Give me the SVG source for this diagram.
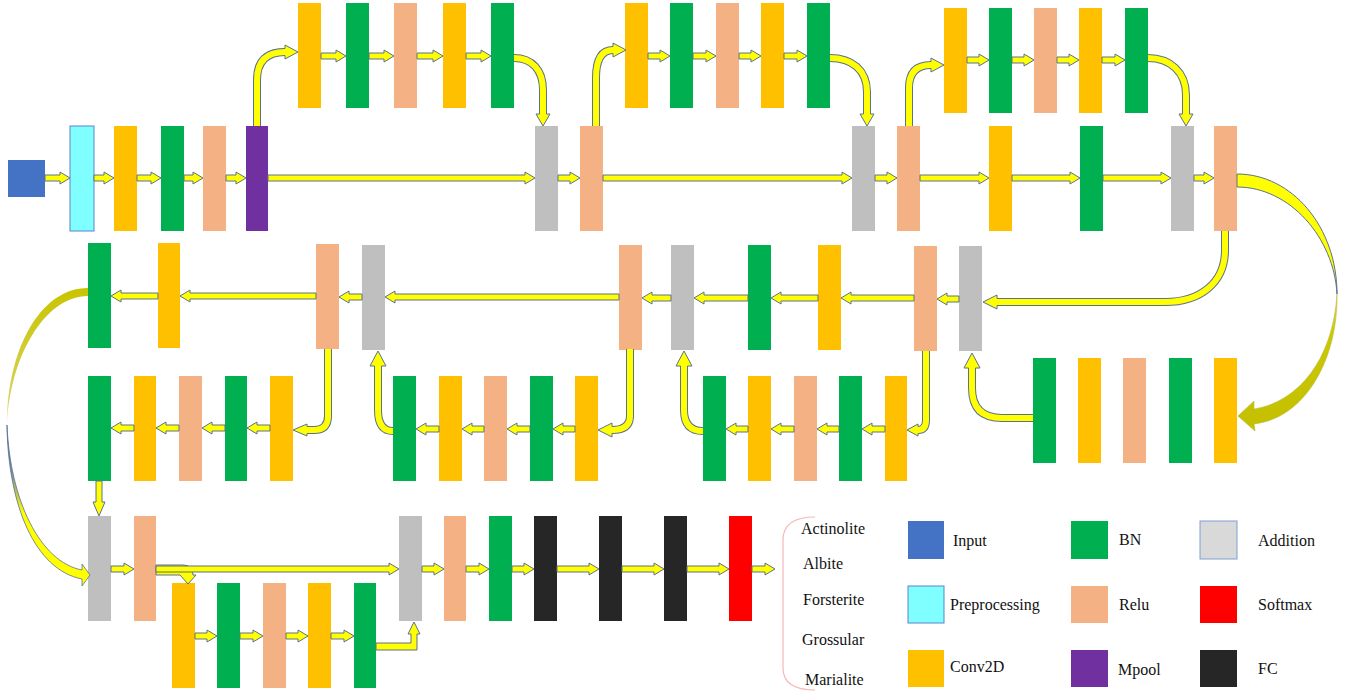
<svg xmlns="http://www.w3.org/2000/svg" width="1355" height="692" viewBox="0 0 1355 692">
<style>
.cv{fill:#ffc000}.bn{fill:#00b050}.rl{fill:#f4b183}.ad{fill:#bfbfbf}.fc{fill:#262626}.sm{fill:#ff0000}.mp{fill:#7030a0}.in{fill:#4472c4}
.pp{fill:#7fffff;stroke:#5b84cc;stroke-width:1}
.lad{fill:#d9d9d9;stroke:#7f9fd6;stroke-width:1}
.ar,.ah{fill:#ffff00;stroke:#5b7190;stroke-width:1}
.so{fill:none;stroke:#5b7190;stroke-width:8}
.si{fill:none;stroke:#ffff00;stroke-width:6}
.t{font-family:"Liberation Serif","Times New Roman",serif;font-size:16px;fill:#111}
</style>
<defs>
<linearGradient id="gLU" gradientUnits="userSpaceOnUse" x1="0" y1="288" x2="0" y2="428">
<stop offset="0" stop-color="#c8c400"/><stop offset="0.8" stop-color="#d6d35a"/><stop offset="1" stop-color="#eeeed8"/>
</linearGradient>
<linearGradient id="gLL" gradientUnits="userSpaceOnUse" x1="0" y1="425" x2="0" y2="585">
<stop offset="0" stop-color="#3f5f9f"/><stop offset="0.3" stop-color="#7f8fa0"/><stop offset="0.55" stop-color="#ffff00"/><stop offset="1" stop-color="#ffff00"/>
</linearGradient>
<linearGradient id="gRL" gradientUnits="userSpaceOnUse" x1="0" y1="294" x2="0" y2="430">
<stop offset="0" stop-color="#e0e040"/><stop offset="0.3" stop-color="#cbc700"/><stop offset="1" stop-color="#c4c000"/>
</linearGradient>
</defs>

<!-- Row 1 -->
<g id="input"><rect class="in" x="8" y="160" width="37" height="37"/></g>
<g id="preprocessing"><rect class="pp" x="70" y="126" width="24" height="105"/></g>
<g id="r1_conv"><rect class="cv" x="114" y="126" width="23" height="105"/></g>
<g id="r1_bn"><rect class="bn" x="161" y="126" width="23" height="105"/></g>
<g id="r1_relu"><rect class="rl" x="203" y="126" width="23" height="105"/></g>
<g id="r1_mpool"><rect class="mp" x="246" y="126" width="22" height="105"/></g>
<g id="r1_add1"><rect class="ad" x="535" y="126" width="23" height="105"/></g>
<g id="r1_relu2"><rect class="rl" x="580" y="126" width="23" height="105"/></g>
<g id="r1_add2"><rect class="ad" x="852" y="126" width="23" height="105"/></g>
<g id="r1_relu3"><rect class="rl" x="897" y="126" width="23" height="105"/></g>
<g id="r1_conv2"><rect class="cv" x="989" y="126" width="23" height="105"/></g>
<g id="r1_bn2"><rect class="bn" x="1080" y="126" width="23" height="105"/></g>
<g id="r1_add3"><rect class="ad" x="1171" y="126" width="23" height="105"/></g>
<g id="r1_relu4"><rect class="rl" x="1214" y="126" width="23" height="105"/></g>

<!-- Top branches -->
<g id="b1_conv1"><rect class="cv" x="298" y="3" width="23" height="105"/></g>
<g id="b1_bn1"><rect class="bn" x="346" y="3" width="23" height="105"/></g>
<g id="b1_relu"><rect class="rl" x="394" y="3" width="23" height="105"/></g>
<g id="b1_conv2"><rect class="cv" x="443" y="3" width="23" height="105"/></g>
<g id="b1_bn2"><rect class="bn" x="491" y="3" width="23" height="105"/></g>

<g id="b2_conv1"><rect class="cv" x="625" y="3" width="23" height="105"/></g>
<g id="b2_bn1"><rect class="bn" x="670" y="3" width="23" height="105"/></g>
<g id="b2_relu"><rect class="rl" x="716" y="3" width="23" height="105"/></g>
<g id="b2_conv2"><rect class="cv" x="761" y="3" width="23" height="105"/></g>
<g id="b2_bn2"><rect class="bn" x="807" y="3" width="23" height="105"/></g>

<g id="b3_conv1"><rect class="cv" x="944" y="8" width="23" height="105"/></g>
<g id="b3_bn1"><rect class="bn" x="989" y="8" width="23" height="105"/></g>
<g id="b3_relu"><rect class="rl" x="1034" y="8" width="23" height="105"/></g>
<g id="b3_conv2"><rect class="cv" x="1079" y="8" width="23" height="105"/></g>
<g id="b3_bn2"><rect class="bn" x="1125" y="8" width="23" height="105"/></g>

<!-- Row 2 -->
<g id="r2_bn"><rect class="bn" x="88" y="243" width="23" height="105"/></g>
<g id="r2_conv"><rect class="cv" x="158" y="243" width="22" height="105"/></g>
<g id="r2_relu1"><rect class="rl" x="316" y="244" width="23" height="105"/></g>
<g id="r2_add1"><rect class="ad" x="362" y="245" width="23" height="105"/></g>
<g id="r2_relu2"><rect class="rl" x="619" y="245" width="23" height="105"/></g>
<g id="r2_add2"><rect class="ad" x="671" y="245" width="23" height="105"/></g>
<g id="r2_bn2"><rect class="bn" x="748" y="245" width="23" height="105"/></g>
<g id="r2_conv2"><rect class="cv" x="818" y="245" width="23" height="105"/></g>
<g id="r2_relu3"><rect class="rl" x="914" y="246" width="23" height="105"/></g>
<g id="r2_add3"><rect class="ad" x="959" y="246" width="23" height="105"/></g>

<!-- Row 3 -->
<g id="r3a_bn1"><rect class="bn" x="88" y="376" width="23" height="105"/></g>
<g id="r3a_conv1"><rect class="cv" x="134" y="376" width="22" height="105"/></g>
<g id="r3a_relu"><rect class="rl" x="179" y="376" width="23" height="105"/></g>
<g id="r3a_bn2"><rect class="bn" x="225" y="376" width="22" height="105"/></g>
<g id="r3a_conv2"><rect class="cv" x="270" y="376" width="23" height="105"/></g>

<g id="r3b_bn1"><rect class="bn" x="393" y="376" width="23" height="105"/></g>
<g id="r3b_conv1"><rect class="cv" x="439" y="376" width="23" height="105"/></g>
<g id="r3b_relu"><rect class="rl" x="484" y="376" width="23" height="105"/></g>
<g id="r3b_bn2"><rect class="bn" x="530" y="376" width="23" height="105"/></g>
<g id="r3b_conv2"><rect class="cv" x="575" y="376" width="23" height="105"/></g>

<g id="r3c_bn1"><rect class="bn" x="703" y="376" width="23" height="105"/></g>
<g id="r3c_conv1"><rect class="cv" x="748" y="376" width="23" height="105"/></g>
<g id="r3c_relu"><rect class="rl" x="794" y="376" width="23" height="105"/></g>
<g id="r3c_bn2"><rect class="bn" x="839" y="376" width="23" height="105"/></g>
<g id="r3c_conv2"><rect class="cv" x="885" y="376" width="22" height="105"/></g>

<g id="r3d_bn1"><rect class="bn" x="1033" y="358" width="23" height="105"/></g>
<g id="r3d_conv1"><rect class="cv" x="1078" y="358" width="23" height="105"/></g>
<g id="r3d_relu"><rect class="rl" x="1123" y="358" width="23" height="105"/></g>
<g id="r3d_bn2"><rect class="bn" x="1169" y="358" width="23" height="105"/></g>
<g id="r3d_conv2"><rect class="cv" x="1214" y="358" width="23" height="105"/></g>

<!-- Row 4 -->
<g id="r4_add1"><rect class="ad" x="88" y="516" width="23" height="105"/></g>
<g id="r4_relu1"><rect class="rl" x="134" y="516" width="22" height="105"/></g>
<g id="r4_add2"><rect class="ad" x="399" y="516" width="23" height="105"/></g>
<g id="r4_relu2"><rect class="rl" x="444" y="516" width="22" height="105"/></g>
<g id="r4_bn"><rect class="bn" x="489" y="516" width="23" height="105"/></g>
<g id="r4_fc1"><rect class="fc" x="534" y="516" width="23" height="105"/></g>
<g id="r4_fc2"><rect class="fc" x="599" y="516" width="23" height="105"/></g>
<g id="r4_fc3"><rect class="fc" x="664" y="516" width="23" height="105"/></g>
<g id="r4_softmax"><rect class="sm" x="729" y="516" width="23" height="105"/></g>

<g id="r5_conv1"><rect class="cv" x="172" y="583" width="23" height="105"/></g>
<g id="r5_bn1"><rect class="bn" x="217" y="583" width="23" height="105"/></g>
<g id="r5_relu"><rect class="rl" x="263" y="583" width="23" height="105"/></g>
<g id="r5_conv2"><rect class="cv" x="308" y="583" width="23" height="105"/></g>
<g id="r5_bn2"><rect class="bn" x="354" y="583" width="22" height="105"/></g>

<!-- Connectors -->
<g id="connectors">
<!-- row 1 -->
<path class="ar" d="M45 175H60V172L70 178L60 184V181H45Z"/>
<path class="ar" d="M94 175H104V172L114 178L104 184V181H94Z"/>
<path class="ar" d="M137 175H151V172L161 178L151 184V181H137Z"/>
<path class="ar" d="M184 175H193V172L203 178L193 184V181H184Z"/>
<path class="ar" d="M226 175H236V172L246 178L236 184V181H226Z"/>
<path class="ar" d="M268 175H525V172L535 178L525 184V181H268Z"/>
<path class="ar" d="M558 175H570V172L580 178L570 184V181H558Z"/>
<path class="ar" d="M603 175H842V172L852 178L842 184V181H603Z"/>
<path class="ar" d="M875 175H887V172L897 178L887 184V181H875Z"/>
<path class="ar" d="M920 175H979V172L989 178L979 184V181H920Z"/>
<path class="ar" d="M1012 175H1070V172L1080 178L1070 184V181H1012Z"/>
<path class="ar" d="M1103 175H1161V172L1171 178L1161 184V181H1103Z"/>
<path class="ar" d="M1194 175H1204V172L1214 178L1204 184V181H1194Z"/>
<!-- branch 1 -->
<path class="ar" d="M321 53H336V50L346 56L336 62V59H321Z"/>
<path class="ar" d="M369 53H384V50L394 56L384 62V59H369Z"/>
<path class="ar" d="M417 53H433V50L443 56L433 62V59H417Z"/>
<path class="ar" d="M466 53H481V50L491 56L481 62V59H466Z"/>
<path class="so" d="M257 126V80Q257 52 285 52"/><path class="si" d="M257 126V80Q257 52 285 52"/>
<path class="ah" d="M284 48.5H285V45L298 52L285 59V55.5H284"/>
<path class="so" d="M514 58C532 58 543 70 543 90V114"/><path class="si" d="M514 58C532 58 543 70 543 90V114"/>
<path class="ah" d="M539.5 113V114H536L543 126L550 114H546.5V113"/>
<!-- branch 2 -->
<path class="ar" d="M648 53H660V50L670 56L660 62V59H648Z"/>
<path class="ar" d="M693 53H706V50L716 56L706 62V59H693Z"/>
<path class="ar" d="M739 53H751V50L761 56L751 62V59H739Z"/>
<path class="ar" d="M784 53H797V50L807 56L797 62V59H784Z"/>
<path class="so" d="M596 126V78Q596 50 613 50"/><path class="si" d="M596 126V78Q596 50 613 50"/>
<path class="ah" d="M612 46.5H613V43L626 50L613 57V53.5H612"/>
<path class="so" d="M830 58C852 58 867 70 867 92V114"/><path class="si" d="M830 58C852 58 867 70 867 92V114"/>
<path class="ah" d="M863.5 113V114H860L867 126L874 114H870.5V113"/>
<!-- branch 3 -->
<path class="ar" d="M967 57H979V54L989 60L979 66V63H967Z"/>
<path class="ar" d="M1012 57H1024V54L1034 60L1024 66V63H1012Z"/>
<path class="ar" d="M1057 57H1069V54L1079 60L1069 66V63H1057Z"/>
<path class="ar" d="M1102 57H1115V54L1125 60L1115 66V63H1102Z"/>
<path class="so" d="M909 126V88Q909 65 931 65"/><path class="si" d="M909 126V88Q909 65 931 65"/>
<path class="ah" d="M930 61.5H931V58L944 65L931 72V68.5H930"/>
<path class="so" d="M1148 58C1170 58 1186 72 1186 95V114"/><path class="si" d="M1148 58C1170 58 1186 72 1186 95V114"/>
<path class="ah" d="M1182.5 113V114H1179L1186 126L1193 114H1189.5V113"/>
<!-- big right curve -->
<path fill="#ffff00" stroke="#5b7190" stroke-width="1" d="M1237 174C1292 174 1337 227 1337 294C1334 238 1290 187 1237 187Z"/>
<path fill="url(#gRL)" stroke="#b8b840" stroke-width="0.6" d="M1337 294C1338 360 1305 418 1254 424L1255 431L1238 416L1254 401L1254 409C1298 402 1333 360 1337 294Z"/>
<!-- return to row 2 -->
<path class="so" d="M1225 231V250C1225 283 1200 302 1165 302H997"/><path class="si" d="M1225 231V250C1225 283 1200 302 1165 302H997"/>
<path class="ah" d="M998 298.5H997V295L983 302L997 309V305.5H998"/>
<!-- row 2 -->
<path class="ar" d="M959 296H947V293L937 299L947 305V302H959Z"/>
<path class="ar" d="M914 295H851V292L841 298L851 304V301H914Z"/>
<path class="ar" d="M818 295H781V292L771 298L781 304V301H818Z"/>
<path class="ar" d="M748 295H704V292L694 298L704 304V301H748Z"/>
<path class="ar" d="M671 295H652V292L642 298L652 304V301H671Z"/>
<path class="ar" d="M619 294H395V291L385 297L395 303V300H619Z"/>
<path class="ar" d="M362 294H349V291L339 297L349 303V300H362Z"/>
<path class="ar" d="M316 293H190V290L180 296L190 302V299H316Z"/>
<path class="ar" d="M158 293H121V290L111 296L121 302V299H158Z"/>
<!-- right group up into add -->
<path class="so" d="M1033 418H1002Q972 418 972 388V368"/><path class="si" d="M1033 418H1002Q972 418 972 388V368"/>
<path class="ah" d="M968.5 369V368H964L972 353L980 368H975.5V369"/>
<!-- row 3 c -->
<path class="so" d="M926 351V420Q926 430 918 430"/><path class="si" d="M926 351V420Q926 430 918 430"/>
<path class="ah" d="M919 426.5H918V424L907 430L918 436V433.5H919"/>
<path class="ar" d="M885 426H872V423L862 429L872 435V432H885Z"/>
<path class="ar" d="M839 426H827V423L817 429L827 435V432H839Z"/>
<path class="ar" d="M794 426H781V423L771 429L781 435V432H794Z"/>
<path class="ar" d="M748 426H736V423L726 429L736 435V432H748Z"/>
<path class="so" d="M703 431Q684 431 684 410V366"/><path class="si" d="M703 431Q684 431 684 410V366"/>
<path class="ah" d="M680.5 367V366H676L684 351L692 366H687.5V367"/>
<!-- row 3 b -->
<path class="so" d="M630 349V416Q630 430 612 430"/><path class="si" d="M630 349V416Q630 430 612 430"/>
<path class="ah" d="M613 426.5H612V423L598 430L612 437V433.5H613"/>
<path class="ar" d="M575 426H563V423L553 429L563 435V432H575Z"/>
<path class="ar" d="M530 426H517V423L507 429L517 435V432H530Z"/>
<path class="ar" d="M484 426H472V423L462 429L472 435V432H484Z"/>
<path class="ar" d="M439 426H426V423L416 429L426 435V432H439Z"/>
<path class="so" d="M393 431Q378 431 378 410V366"/><path class="si" d="M393 431Q378 431 378 410V366"/>
<path class="ah" d="M374.5 367V366H370L378 351L386 366H381.5V367"/>
<!-- row 3 a -->
<path class="so" d="M328 349V416Q328 430 314 430H307"/><path class="si" d="M328 349V416Q328 430 314 430H307"/>
<path class="ah" d="M308 426.5H307V424L293 430L307 436V433.5H308"/>
<path class="ar" d="M270 425H257V422L247 428L257 434V431H270Z"/>
<path class="ar" d="M225 425H212V422L202 428L212 434V431H225Z"/>
<path class="ar" d="M179 425H166V422L156 428L166 434V431H179Z"/>
<path class="ar" d="M134 425H121V422L111 428L121 434V431H134Z"/>
<path class="ar" d="M96 481V502H93L99 516L105 502H102V481Z"/>
<!-- big left curve -->
<path fill="url(#gLU)" d="M88 288C40 288 7 350 7 425C10 356 45 296 88 296Z"/>
<path fill="url(#gLL)" stroke="#5b7190" stroke-width="0.8" d="M7 425C8 505 35 570 82 579L82 586L90 575L82 564L82 570C40 562 10 500 7 425Z"/>
<!-- row 4 -->
<path class="ar" d="M111 566H124V563L134 569L124 575V572H111Z"/>
<path class="ar" d="M156 565H183Q193 565 193 575H196L188 584L180 575H156Z"/>
<path class="ar" d="M156 566H389V563L399 569L389 575V572H156Z"/>
<path class="ar" d="M195 633H207V630L217 636L207 642V639H195Z"/>
<path class="ar" d="M240 633H253V630L263 636L253 642V639H240Z"/>
<path class="ar" d="M286 633H298V630L308 636L298 642V639H286Z"/>
<path class="ar" d="M331 633H344V630L354 636L344 642V639H331Z"/>
<path class="ar" d="M376 643H411V634H408L414 622L420 634H417V650H376Z"/>
<path class="ar" d="M422 566H434V563L444 569L434 575V572H422Z"/>
<path class="ar" d="M466 566H479V563L489 569L479 575V572H466Z"/>
<path class="ar" d="M512 566H524V563L534 569L524 575V572H512Z"/>
<path class="ar" d="M557 566H589V563L599 569L589 575V572H557Z"/>
<path class="ar" d="M622 566H654V563L664 569L654 575V572H622Z"/>
<path class="ar" d="M687 566H719V563L729 569L719 575V572H687Z"/>
<path class="ar" d="M752 566H765V563L775 569L765 575V572H752Z"/>
</g>

<!-- Output classes -->
<g id="classes">
<path d="M815 517Q783 517 783 540V668Q783 690 815 690" fill="none" stroke="#f6b8b8" stroke-width="1.2"/>
<text class="t" x="801" y="534">Actinolite</text>
<text class="t" x="803" y="569">Albite</text>
<text class="t" x="803" y="605">Forsterite</text>
<text class="t" x="802" y="645">Grossular</text>
<text class="t" x="805" y="685">Marialite</text>
</g>

<!-- Legend -->
<g id="legend_input"><rect class="in" x="908" y="521" width="36" height="38"/><text class="t" x="953" y="546">Input</text></g>
<g id="legend_pre"><rect class="pp" x="908" y="586" width="36" height="37"/><text class="t" x="950" y="610">Preprocessing</text></g>
<g id="legend_conv"><rect class="cv" x="908" y="650" width="36" height="37"/><text class="t" x="950" y="672">Conv2D</text></g>
<g id="legend_bn"><rect class="bn" x="1071" y="521" width="37" height="38"/><text class="t" x="1119" y="545">BN</text></g>
<g id="legend_relu"><rect class="rl" x="1071" y="586" width="37" height="37"/><text class="t" x="1119" y="610">Relu</text></g>
<g id="legend_mpool"><rect class="mp" x="1071" y="650" width="37" height="37"/><text class="t" x="1118" y="675">Mpool</text></g>
<g id="legend_add"><rect class="lad" x="1200" y="521" width="37" height="38"/><text class="t" x="1258" y="546">Addition</text></g>
<g id="legend_softmax"><rect class="sm" x="1200" y="586" width="37" height="37"/><text class="t" x="1258" y="610">Softmax</text></g>
<g id="legend_fc"><rect class="fc" x="1200" y="650" width="37" height="37"/><text class="t" x="1258" y="674">FC</text></g>
</svg>
